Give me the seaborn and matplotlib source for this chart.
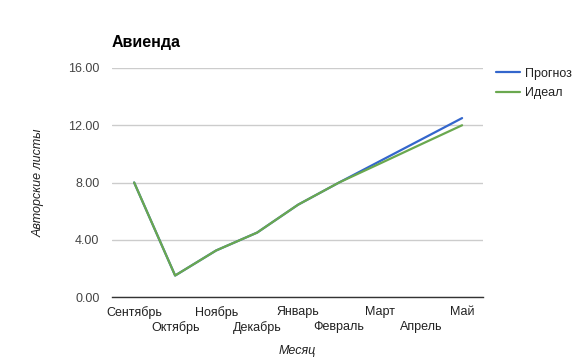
import pandas as pd
import matplotlib
matplotlib.use("Agg")
import matplotlib.pyplot as plt
import seaborn as sns

# Months and values
months = ['Сентябрь', 'Октябрь', 'Ноябрь', 'Декабрь', 'Январь',
          'Февраль', 'Март', 'Апрель', 'Май']
forecast = [8.0, 1.5, 3.25, 4.5, 6.45, 8.0, 9.5, 11.0, 12.5]
ideal = [8.0, 1.5, 3.25, 4.5, 6.45, 8.0, 9.33, 10.67, 12.0]
series_names = ['Прогноз', 'Идеал']
y_ticks = [0, 4, 8, 12, 16]

sns.set_theme(style="white")
plt.rcParams['font.family'] = ['Liberation Sans', 'DejaVu Sans']

df = pd.DataFrame({
    'pos': list(range(len(months))) * 2,
    'value': forecast + ideal,
    'series': [series_names[0]] * len(months) + [series_names[1]] * len(months),
})

fig = plt.figure(figsize=(5.77, 3.61), dpi=100)
ax = fig.add_axes([112 / 577, 1 - 297 / 361, (483 - 112) / 577, (297 - 68) / 361])

custom_palette = {'Прогноз': '#3366cc', 'Идеал': '#6aa84f'}
sns.lineplot(df, x='pos', y='value', hue='series', palette=custom_palette,
             hue_order=series_names, linewidth=1.6, ax=ax)

ax.set_xlim(-0.54, 8.51)
ax.set_ylim(0, 16)
ax.set_yticks(y_ticks)
ax.set_yticklabels([f"{v:.2f}" for v in y_ticks])

# staggered month labels: even months on the first row (major ticks),
# odd months on a second row (minor ticks with a bigger pad)
ax.set_xticks(range(0, len(months), 2))
ax.set_xticklabels(months[0::2])
ax.set_xticks(range(1, len(months), 2), minor=True)
ax.set_xticklabels(months[1::2], minor=True)
ax.tick_params(axis='x', which='major', length=0, pad=6.5, labelsize=9, colors='#222222')
ax.tick_params(axis='x', which='minor', length=0, pad=17.5, labelsize=9, colors='#222222')
ax.tick_params(axis='y', length=0, pad=9, labelsize=9, colors='#444444')

ax.grid(axis='y', color='#cccccc', linewidth=1)
ax.grid(axis='x', visible=False, which='both')
for s in ['left', 'right', 'top']:
    ax.spines[s].set_visible(False)
ax.spines['bottom'].set_color('#333333')
ax.spines['bottom'].set_linewidth(1)

ax.set_xlabel('Месяц', fontstyle='italic', fontsize=9, color='#222222', labelpad=8)
ax.set_ylabel('Авторские листы', fontstyle='italic', fontsize=9, color='#222222', labelpad=17)

fig.text(112 / 577, 1 - 42 / 361, 'Авиенда', fontsize=11.5, fontweight='bold',
         ha='left', va='center', color='black')

leg = ax.legend(loc='upper left', bbox_to_anchor=(496 / 577, 1 - 67.5 / 361),
                bbox_transform=fig.transFigure, frameon=False, fontsize=9,
                borderpad=0, borderaxespad=0,
                handlelength=1.9, handletextpad=0.4, labelspacing=0.62)
for t in leg.get_texts():
    t.set_color('#222222')

fig.savefig('out.png', dpi=100)
plt.close()
